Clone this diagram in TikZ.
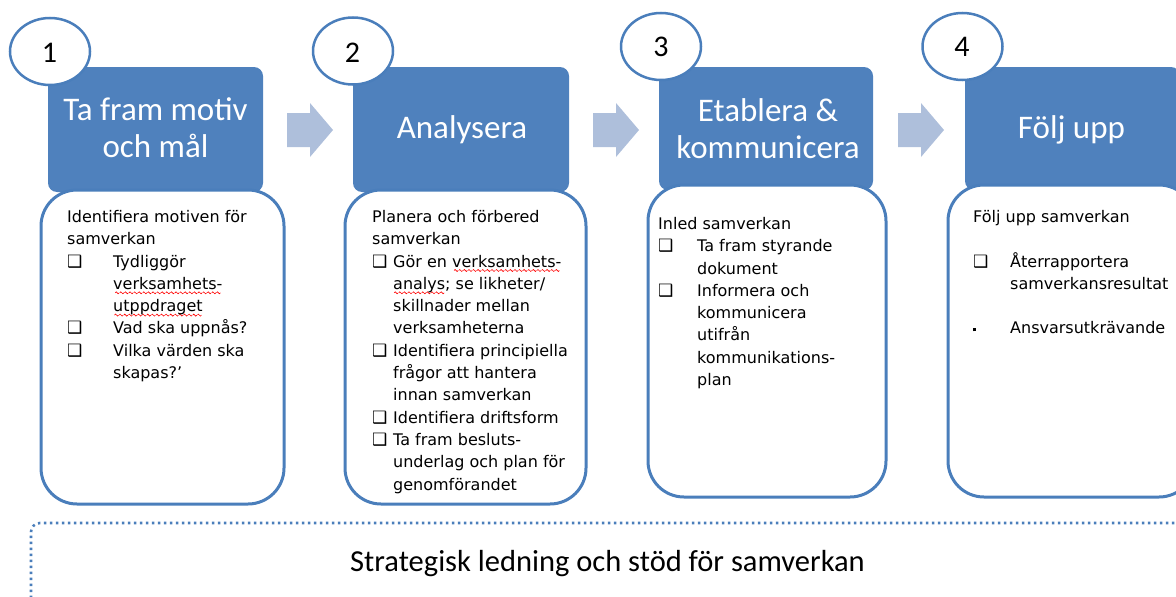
\documentclass[tikz,border=0pt]{standalone}
\usepackage{fontspec}
\usetikzlibrary{shapes.geometric}
\newfontfamily\hdrfont{Carlito}
\newfontfamily\bodyfont{DejaVu Sans}
\definecolor{hblue}{HTML}{4F81BD}
\definecolor{lblue}{HTML}{4A7EBB}
\definecolor{arrowc}{HTML}{AEBFDB}
\newcommand\bx{{\bodyfont\fontsize{17}{17}\selectfont ❑}}
\newsavebox\wavebox
\newsavebox\spellbox
\newcommand\wavemark{\tikz[baseline=0pt]\draw[red, line width=0.6pt] (0pt,-3.5pt) sin (1pt,-2.5pt) cos (2pt,-3.5pt) sin (3pt,-4.5pt) cos (4pt,-3.5pt);}
\newcommand\spell[1]{\sbox\spellbox{#1}\rlap{\hbox to \wd\spellbox{\cleaders\hbox{\wavemark}\hfill}}\usebox\spellbox}
\tikzset{
  hbox/.style={rectangle, rounded corners=9pt, fill=hblue, minimum height=125pt, inner sep=0pt},
  wbox/.style={rectangle, rounded corners=36pt, draw=lblue, line width=3pt, fill=white, inner sep=0pt},
  numc/.style={ellipse, draw=lblue, line width=2.5pt, fill=white, minimum width=80pt, minimum height=67pt, inner sep=0pt},
  numtxt/.style={anchor=base, inner sep=0pt, font=\hdrfont\fontsize{30}{36}\selectfont},
  htxt/.style={anchor=base, inner sep=0pt, text=white, font=\hdrfont\fontsize{33}{37}\selectfont},
  body/.style={anchor=base west, inner sep=0pt, text=black, font=\bodyfont\fontsize{16}{22.3}\selectfont},
  blockarrow/.pic={\fill[arrowc] (0,-17) -- (23,-17) -- (23,-27) -- (46,0) -- (23,27) -- (23,17) -- (0,17) -- cycle;}
}
\begin{document}
\begin{tikzpicture}[x=1pt,y=-1pt]
\useasboundingbox (0,0) rectangle (1176,597);
\clip (0,0) rectangle (1176,597);
% header boxes
\node[hbox, minimum width=215pt] (b1) at (155.5,129.5) {};
\node[hbox, minimum width=216pt] (b2) at (461,129.5) {};
\node[hbox, minimum width=214pt, minimum height=123pt] (b3) at (766,128.5) {};
\node[hbox, minimum width=215pt, minimum height=123pt] (b4) at (1072.5,128.5) {};
% body boxes
\node[wbox, minimum width=243pt, minimum height=314pt] (w1) at (162.5,347) {};
\node[wbox, minimum width=241pt, minimum height=314pt] (w2) at (465.5,347) {};
\node[wbox, minimum width=238pt, minimum height=312pt] (w3) at (767,341) {};
\node[wbox, minimum width=247pt, minimum height=312pt] (w4) at (1071.5,341) {};
% number circles
\node[numc] (c1) at (50,51.5) {};
\node[numc] (c2) at (353,51) {};
\node[numc] (c3) at (661,46.5) {};
\node[numc] (c4) at (962.5,46.5) {};
\node[numtxt] (n1) at (49.5,62) {1};
\node[numtxt] (n2) at (352.5,62) {2};
\node[numtxt] (n3) at (661,56) {3};
\node[numtxt] (n4) at (962,56) {4};
% header texts
\node[htxt] (h1) at (155.5,120) {\parbox[t]{210pt}{\centering Ta fram motiv\\och mål}};
\node[htxt] (h2) at (462,138) {Analysera};
\node[htxt] (h3) at (768,121.5) {\parbox[t]{210pt}{\centering Etablera \&\\kommunicera}};
\node[htxt] (h4) at (1071.5,138) {Följ upp};
% arrows
\pic at (287,130) {blockarrow};
\pic at (593,130) {blockarrow};
\pic at (898,130) {blockarrow};
% body texts
\node[body] (t1) at (67,222.4) {\parbox[t]{215pt}{\raggedright
Identifiera motiven för\\
samverkan\\
\makebox[46pt][l]{\bx}Tydliggör\\
\hspace*{46pt}\spell{verksamhets-}\\
\hspace*{46pt}\spell{utppdraget}\\
\makebox[46pt][l]{\bx}Vad ska uppnås?\\
\makebox[46pt][l]{\bx}Vilka värden ska\\
\hspace*{46pt}skapas?’}};
\node[body] (t2) at (372,222.4) {\parbox[t]{215pt}{\raggedright
Planera och förbered\\
samverkan\\
\makebox[21pt][l]{\bx}Gör en \spell{verksamhets-}\\
\hspace*{21pt}\spell{analys}; se likheter/\\
\hspace*{21pt}skillnader mellan\\
\hspace*{21pt}verksamheterna\\
\makebox[21pt][l]{\bx}Identifiera principiella\\
\hspace*{21pt}frågor att hantera\\
\hspace*{21pt}innan samverkan\\
\makebox[21pt][l]{\bx}Identifiera driftsform\\
\makebox[21pt][l]{\bx}Ta fram besluts-\\
\hspace*{21pt}underlag och plan för\\
\hspace*{21pt}genomförandet}};
\node[body] (t3) at (658,229.4) {\parbox[t]{215pt}{\raggedright
Inled samverkan\\
\makebox[39pt][l]{\bx}Ta fram styrande\\
\hspace*{39pt}dokument\\
\makebox[39pt][l]{\bx}Informera och\\
\hspace*{39pt}kommunicera\\
\hspace*{39pt}utifrån\\
\hspace*{39pt}kommunikations-\\
\hspace*{39pt}plan}};
\node[body] (t4) at (973,222.4) {\parbox[t]{215pt}{\raggedright
Följ upp samverkan\\[22.3pt]
\makebox[37pt][l]{\bx}Återrapportera\\
\hspace*{37pt}samverkansresultat\\[22.3pt]
\makebox[37pt][l]{\rule[2.5pt]{3pt}{3pt}}Ansvarsutkrävande}};
% strategic frame
\draw[lblue, line width=2.6pt, dash pattern=on 2.4pt off 3.6pt, rounded corners=9pt] (31,640) |- (1220,523);
\node[anchor=base, inner sep=0pt, font=\hdrfont\fontsize{30.5}{36}\selectfont] (strat) at (607.5,571) {Strategisk ledning och stöd för samverkan};
\end{tikzpicture}
\end{document}
